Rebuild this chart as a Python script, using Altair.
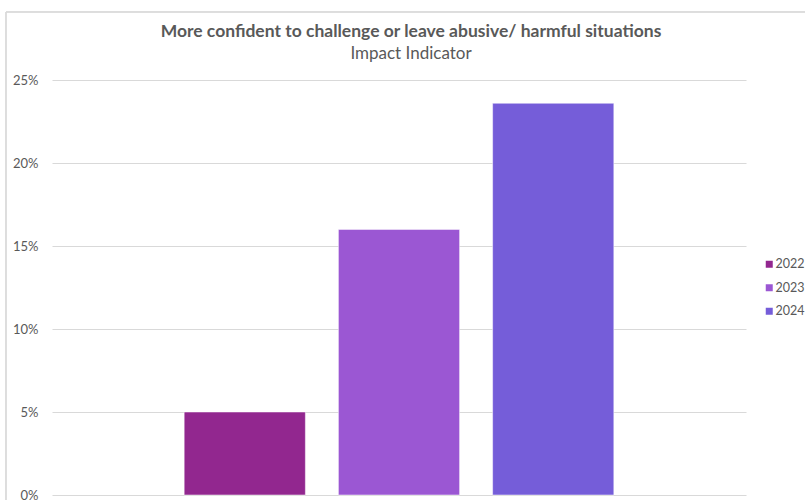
import altair as alt
import pandas as pd

# Share of respondents reporting the outcome, by survey year
years = ["2022", "2023", "2024"]
shares = [0.05, 0.16, 0.236]
colors = ["#92278F", "#9B57D3", "#755DD9"]

df = pd.DataFrame({"year": years, "share": shares})

FONT = "Lato"
GREY = "#595959"

bars = alt.Chart(df).mark_bar(stroke="#ffffff", strokeOpacity=0.5, strokeWidth=1).encode(
    x=alt.X(
        "year:N",
        axis=None,
        scale=alt.Scale(domain=years, paddingInner=0.214, paddingOuter=0.857),
    ),
    y=alt.Y(
        "share:Q",
        scale=alt.Scale(domain=[0, 0.25]),
        axis=alt.Axis(
            values=[0, 0.05, 0.10, 0.15, 0.20, 0.25],
            format=".0%",
            title=None,
            domain=False,
            ticks=False,
            labelPadding=14,
            labelFont=FONT,
            labelFontSize=13,
            labelColor=GREY,
            gridColor="#D9D9D9",
            gridWidth=1,
        ),
    ),
    color=alt.Color(
        "year:N",
        scale=alt.Scale(domain=years, range=colors),
        legend=alt.Legend(
            title=None,
            orient="none",
            legendX=711,
            legendY=178,
            symbolType="square",
            symbolSize=49,
            symbolStrokeWidth=0,
            labelFont=FONT,
            labelFontSize=12.5,
            labelColor=GREY,
            labelOffset=0,
            rowPadding=10.5,
        ),
    ),
)

# Outer chart frame
frame = alt.Chart(df).mark_rect(fillOpacity=0, stroke="#D9D9D9", strokeWidth=1).encode(
    x=alt.value(-46), x2=alt.value(760), y=alt.value(-68), y2=alt.value(430)
)

chart = (
    alt.layer(frame, bars)
    .properties(
        width=694,
        height=415,
        padding={"left": 52, "top": 80, "right": 59, "bottom": 5},
        autosize=alt.AutoSizeParams(type="none"),
        title=alt.Title(
            "More confident to challenge or leave abusive/ harmful situations",
            subtitle="Impact Indicator",
            font=FONT,
            fontSize=17.5,
            fontWeight="bold",
            color=GREY,
            subtitleFont=FONT,
            subtitleFontSize=17,
            subtitleColor=GREY,
            subtitlePadding=5,
            anchor="middle",
            offset=-50,
            dx=12,
            zindex=1,
        ),
    )
    .configure_view(stroke=None)
)

chart.save("out.html", embed_options={"renderer": "svg", "actions": False})
